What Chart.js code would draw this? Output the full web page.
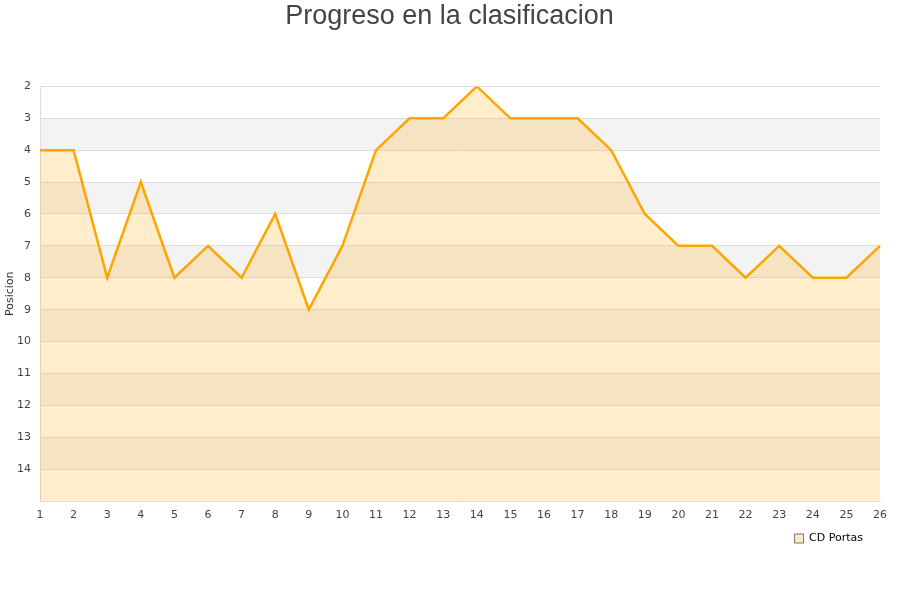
<!DOCTYPE html>
<html>
<head>
<meta charset="utf-8">
<script src="https://cdn.jsdelivr.net/npm/chart.js@4"></script>
<style>
  html, body { margin: 0; padding: 0; background: #fff; }
  #wrap { width: 900px; height: 600px; }
</style>
</head>
<body>
<div id="wrap"><canvas id="chart" width="900" height="600"></canvas></div>
<script>
// jornadas y posiciones
const jornadas = ['1','2','3','4','5','6','7','8','9','10','11','12','13','14','15','16','17','18','19','20','21','22','23','24','25','26'];
const posiciones = [4, 4, 8, 5, 8, 7, 8, 6, 9, 7, 4, 3, 3, 2, 3, 3, 3, 4, 6, 7, 7, 8, 7, 8, 8, 7];
const equipo = 'CD Portas';
const posMin = 2;
const posMax = 15;

// alternating horizontal bands behind the grid
const bands = {
  id: 'bands',
  beforeDraw(chart) {
    const { ctx, chartArea: a, scales: { y } } = chart;
    ctx.save();
    ctx.fillStyle = '#f3f3f3';
    for (let v = posMin + 1; v < posMax; v += 2) {
      const t = y.getPixelForValue(v);
      const b = y.getPixelForValue(v + 1);
      ctx.fillRect(a.left, t, a.right - a.left, b - t);
    }
    ctx.restore();
  }
};

// centre the title on the canvas, nudge the legend left of the plot edge
const nudge = {
  id: 'nudge',
  afterLayout(chart) {
    chart.titleBlock.right += 15;
    chart.legend.right -= 13;
  }
};

const font = { family: 'DejaVu Sans', size: 11 };

new Chart(document.getElementById('chart'), {
  type: 'line',
  data: {
    labels: jornadas,
    datasets: [{
      label: equipo,
      data: posiciones,
      borderColor: '#ffa500',
      backgroundColor: 'rgba(255,165,0,0.2)',
      borderWidth: 2.5,
      pointRadius: 0,
      tension: 0,
      fill: 'start'
    }]
  },
  options: {
    responsive: false,
    animation: false,
    layout: { padding: { left: 4, right: 20, top: 0, bottom: 46 } },
    plugins: {
      title: {
        display: true,
        text: 'Progreso en la clasificacion',
        color: '#444',
        font: { family: 'Liberation Sans', size: 27, weight: 'normal' },
        padding: { top: 0, bottom: 54 }
      },
      legend: {
        position: 'bottom',
        align: 'end',
        labels: {
          color: '#000',
          font: font,
          boxWidth: 9,
          boxHeight: 9,
          padding: 4,
          generateLabels: () => [{
            text: equipo,
            fillStyle: '#fdeccb',
            strokeStyle: '#777',
            lineWidth: 1,
            datasetIndex: 0
          }]
        }
      },
      tooltip: { enabled: false }
    },
    scales: {
      x: {
        offset: false,
        afterFit: s => { s.height = 28; },
        grid: { display: false },
        border: { color: '#ddd' },
        ticks: { color: '#444', font: font, maxRotation: 0, autoSkip: false, padding: 0 }
      },
      y: {
        reverse: true,
        min: posMin,
        max: posMax,
        afterFit: s => { s.width = 36; },
        title: { display: true, text: 'Posicion', color: '#333', font: font, padding: 0 },
        grid: { color: '#ddd', drawTicks: false },
        border: { color: '#ddd' },
        ticks: {
          stepSize: 1,
          color: '#444',
          font: font,
          padding: 9,
          callback: v => (v === posMax ? '' : v)
        }
      }
    }
  },
  plugins: [bands, nudge]
});
</script>
</body>
</html>
